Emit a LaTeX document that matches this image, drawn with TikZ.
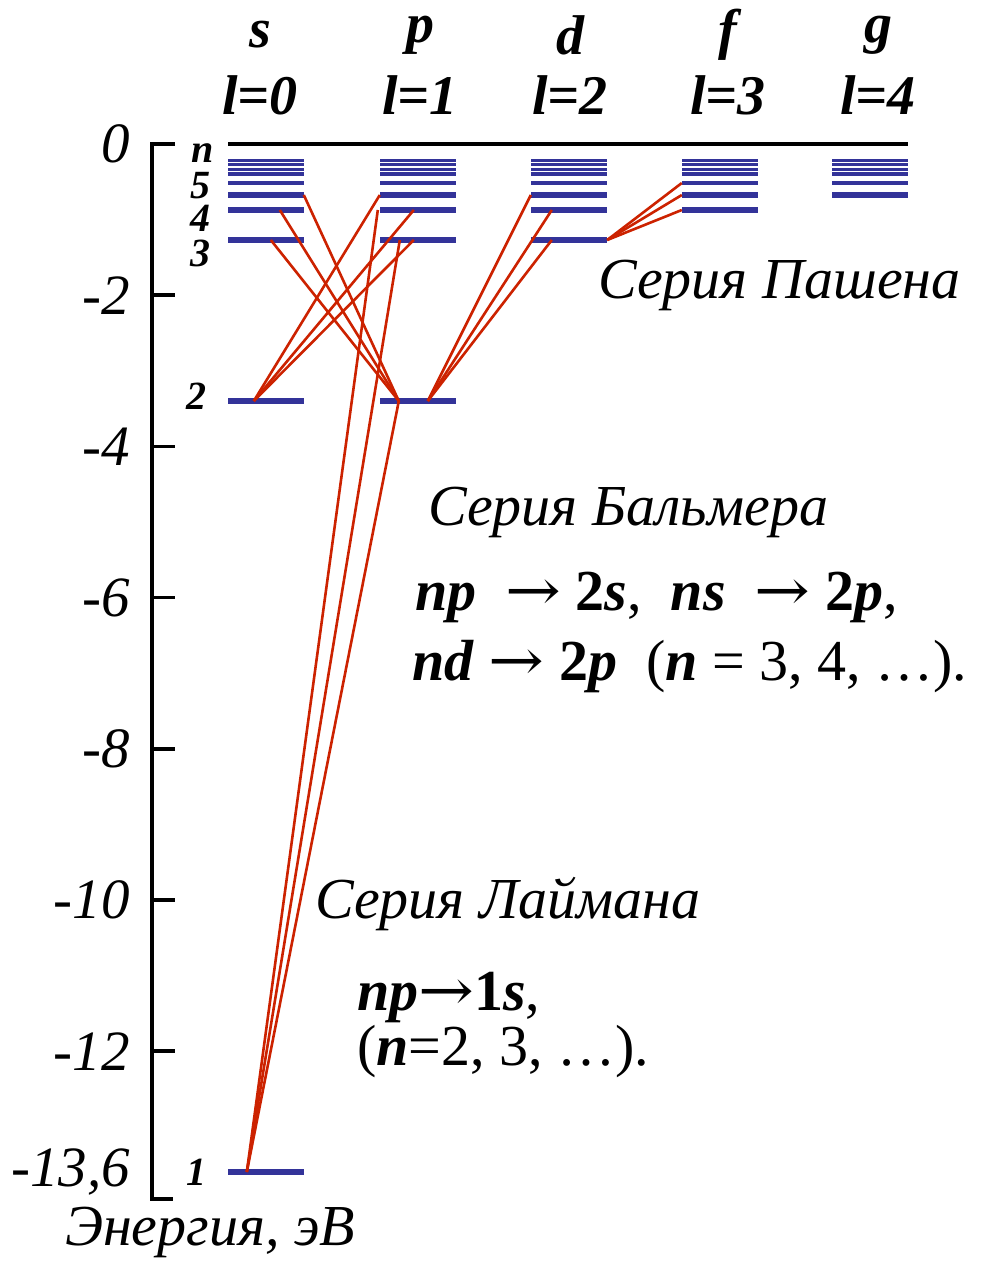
\documentclass[tikz,border=0pt]{standalone}
\usepackage{fontspec}
\usepackage{graphicx}
\setmainfont{Liberation Serif}
\newfontfamily\arrowfont{DejaVu Serif}
\usetikzlibrary{positioning}
\definecolor{levelblue}{RGB}{51,51,153}
\definecolor{transred}{RGB}{204,34,0}
\newcommand{\tarrow}{\scalebox{1.15}[1]{\arrowfont →}}

\begin{document}
\begin{tikzpicture}[x=1pt, y=-1pt,
        level/.style={rectangle, fill=levelblue, inner sep=0pt, minimum width=76pt, minimum height=6pt},
        trans/.style={draw=transred, line width=2.6pt},
        axis/.style={draw=black, line width=3.5pt},
        ticklab/.style={anchor=east, inner sep=0pt, font=\fontsize{57}{60}\selectfont\itshape},
        nlab/.style={inner sep=0pt, font=\fontsize{40}{44}\selectfont\bfseries\itshape},
        head/.style={inner sep=0pt, font=\fontsize{56}{60}\selectfont\bfseries\itshape},
        series/.style={anchor=base west, inner sep=0pt, font=\fontsize{58}{62}\selectfont\itshape},
        formula/.style={anchor=base west, inner sep=0pt, font=\fontsize{58}{62}\selectfont}
    ]
    \useasboundingbox (0,0) rectangle (980,1261);

    % energy axis
    \draw[axis] (175,144) -- (152,144) -- (152,1199) -- (173,1199);
    \node[ticklab] (t0) at (130,144) {0};
    \foreach \e in {2,4,...,12} {
        \draw[axis] (152,{144+75.6*\e}) -- (175,{144+75.6*\e});
        \node[ticklab] (t\e) at (130,{144+75.6*\e}) {-\e};
    }
    \node[ticklab] (t136) at (130,1172) {-13,6};
    \node[series] (energy) at (65,1245) {Энергия, эВ};

    % zero level
    \draw[black, line width=4pt] (228,144) -- (908,144);

    % columns s, p, d, f, g with their levels
    \foreach \col/\lval/\xc/\hx in {s/0/266/260, p/1/418/420, d/2/569/570, f/3/720/728, g/4/870/878} {
        \node[head] (h\col) at (\hx,35) {\col};
        \node[head] (l\col) at (\hx,95) {l=\lval};
        \foreach \nlev/\ylev/\hlev in {1/1172/6, 2/401/6, 3/240/6, 4/210/6, 5/195/6, 6/183/4, 7/174/4, 8/169/3, 9/164/3, 10/160/3} {
            \ifnum\nlev>\lval\relax
                \node[level, minimum height=\hlev pt] (\col\nlev) at (\xc,\ylev) {};
            \fi
        }
    }

    % n labels
    \node[nlab] (labn) at (203,153) {n};
    \node[nlab] (lab5) at (200,186) {5};
    \node[nlab] (lab4) at (200,218) {4};
    \node[nlab] (lab3) at (200,253) {3};
    \node[nlab] (lab2) at (196,396) {2};
    \node[nlab] (lab1) at (196,1172) {1};

    % Balmer: np -> 2s, ns -> 2p, nd -> 2p
    \foreach \up/\dx in {5/0, 4/34, 3/34}
        \draw[trans] ([xshift=26pt]s2.west) -- ([xshift=\dx pt]p\up.west);
    \foreach \up/\dx in {5/76, 4/52, 3/43}
        \draw[trans] ([xshift=19pt]p2.west) -- ([xshift=\dx pt]s\up.west);
    \foreach \up/\dx in {5/0, 4/21, 3/21}
        \draw[trans] ([xshift=48pt]p2.west) -- ([xshift=\dx pt]d\up.west);
    % Lyman: np -> 1s
    \foreach \up/\dx in {2/19, 3/20, 4/-2}
        \draw[trans] ([xshift=19pt]s1.west) -- ([xshift=\dx pt]p\up.west);
    % Paschen: nf -> 3d
    \foreach \up in {4,5,6}
        \draw[trans] (d3.east) -- (f\up.west);

    % series texts
    \node[series] (pasch) at (598,298) {Серия Пашена};
    \node[series] (balm) at (428,525) {Серия Бальмера};
    \node[formula] (balm1) at (415,610) {\textbf{\textit{np}}~ \tarrow{} \textbf{2\textit{s}}, ~\textbf{\textit{ns}}~ \tarrow{} \textbf{2\textit{p}},};
    \node[formula] (balm2) at (412,680) {\textbf{\textit{nd}} \tarrow{} \textbf{2\textit{p}}~ (\textbf{\textit{n}} = 3, 4, …).};
    \node[series] (lyman) at (315,918) {Серия Лаймана};
    \node[formula] (lym1) at (357,1010) {\textbf{\textit{np}}\tarrow\textbf{1\textit{s}},};
    \node[formula] (lym2) at (357,1065) {(\textbf{\textit{n}}=2, 3, …).};
\end{tikzpicture}
\end{document}
